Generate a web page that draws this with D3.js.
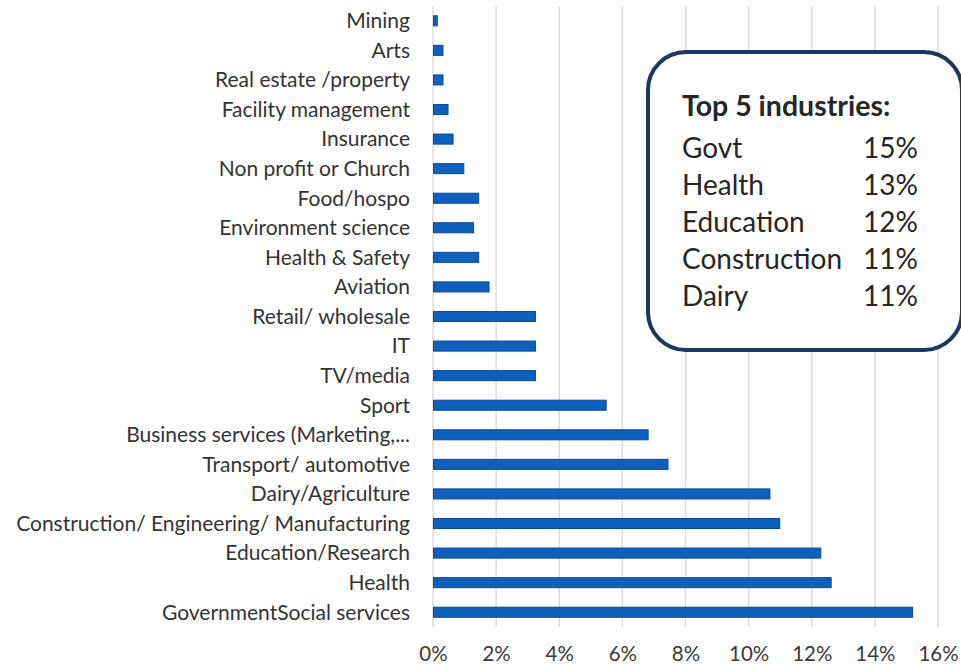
<!DOCTYPE html>
<html>
<head>
<meta charset="utf-8">
<script src="https://cdn.jsdelivr.net/npm/d3@7"></script>
<style>
  html, body { margin: 0; padding: 0; background: #ffffff; }
  svg { display: block; }
</style>
</head>
<body>
<svg id="chart" width="961" height="664"></svg>
<script>
// Share of respondents by industry (fraction of total)
const industries = [
  "Mining",
  "Arts",
  "Real estate /property",
  "Facility management",
  "Insurance",
  "Non profit or Church",
  "Food/hospo",
  "Environment science",
  "Health & Safety",
  "Aviation",
  "Retail/ wholesale",
  "IT",
  "TV/media",
  "Sport",
  "Business services (Marketing,...",
  "Transport/ automotive",
  "Dairy/Agriculture",
  "Construction/ Engineering/ Manufacturing",
  "Education/Research",
  "Health",
  "GovernmentSocial services"
];
const shares = [
  0.0012, 0.0030, 0.0030, 0.0046, 0.0062, 0.0096, 0.0143, 0.0127, 0.0143, 0.0176,
  0.0323, 0.0323, 0.0323, 0.0547, 0.0680, 0.0743, 0.1066, 0.1097, 0.1227, 0.1260, 0.1518
];
const xTicks = [0, 0.02, 0.04, 0.06, 0.08, 0.10, 0.12, 0.14, 0.16];

// Summary callout
const topTitle = "Top 5 industries:";
const topNames = ["Govt", "Health", "Education", "Construction", "Dairy"];
const topPercents = ["15%", "13%", "12%", "11%", "11%"];

const svg = d3.select("#chart");
const FONT = "Lato, 'Open Sans', sans-serif";

const x = d3.scaleLinear().domain([0, 0.16]).range([433, 938]);
const y = d3.scaleBand().domain(industries).range([6, 627]).paddingInner(0.66).paddingOuter(0.33);

// Vertical gridlines
svg.append("g")
  .selectAll("line")
  .data(xTicks)
  .join("line")
  .attr("x1", d => x(d)).attr("x2", d => x(d))
  .attr("y1", 6).attr("y2", 627)
  .attr("stroke", "#dcdcdc")
  .attr("stroke-width", 1.5);

// Bars
svg.append("g")
  .selectAll("rect")
  .data(industries)
  .join("rect")
  .attr("x", x(0) + 0.5)
  .attr("y", d => y(d))
  .attr("width", (d, i) => x(shares[i]) - x(0))
  .attr("height", y.bandwidth())
  .attr("fill", "#0f5fbd")
  .attr("stroke", "#0b4a99")
  .attr("stroke-width", 1);

// Category labels
svg.append("g")
  .selectAll("text")
  .data(industries)
  .join("text")
  .attr("x", 410)
  .attr("y", d => y(d) + y.bandwidth() / 2)
  .attr("dy", "0.35em")
  .attr("text-anchor", "end")
  .attr("font-family", FONT)
  .attr("font-size", 21)
  .attr("fill", "#333333")
  .text(d => d);

// Percentage axis labels
const xAxis = d3.axisBottom(x)
  .tickValues(xTicks)
  .tickFormat(d3.format(".0%"))
  .tickSize(0)
  .tickPadding(0);
const axisG = svg.append("g").attr("transform", "translate(0,646)").call(xAxis);
axisG.select(".domain").remove();
axisG.selectAll("text")
  .attr("font-family", FONT)
  .attr("font-size", 20.5)
  .attr("fill", "#3a3a3a")
  .attr("dy", "0.71em");

// Callout box
const box = svg.append("g");
box.append("rect")
  .attr("x", 648).attr("y", 52)
  .attr("width", 314).attr("height", 298)
  .attr("rx", 38).attr("ry", 38)
  .attr("fill", "#ffffff")
  .attr("stroke", "#1b3766")
  .attr("stroke-width", 4);

box.append("text")
  .attr("x", 682).attr("y", 116)
  .attr("font-family", FONT)
  .attr("font-weight", "bold")
  .attr("font-size", 28.5)
  .attr("fill", "#262626")
  .text(topTitle);

box.selectAll("text.name")
  .data(topNames)
  .join("text")
  .attr("class", "name")
  .attr("x", 682)
  .attr("y", (d, i) => 158 + i * 37)
  .attr("font-family", FONT)
  .attr("font-size", 28)
  .attr("fill", "#262626")
  .text(d => d);

box.selectAll("text.pct")
  .data(topPercents)
  .join("text")
  .attr("class", "pct")
  .attr("x", 918)
  .attr("y", (d, i) => 158 + i * 37)
  .attr("text-anchor", "end")
  .attr("font-family", FONT)
  .attr("font-size", 28)
  .attr("fill", "#262626")
  .text(d => d);
</script>
</body>
</html>
